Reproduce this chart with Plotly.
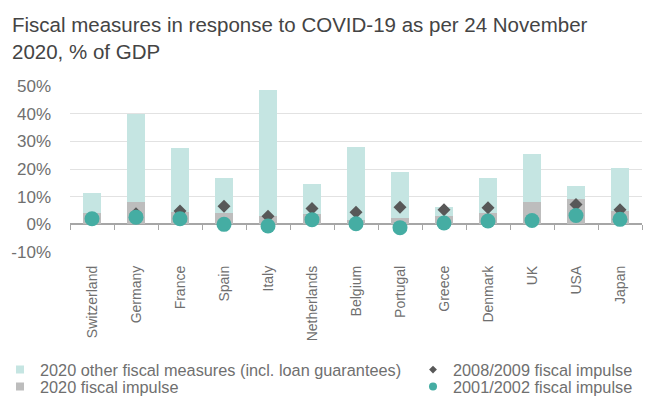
import plotly.graph_objects as go

countries = ["Switzerland", "Germany", "France", "Spain", "Italy", "Netherlands",
             "Belgium", "Portugal", "Greece", "Denmark", "UK", "USA", "Japan"]
impulse_2020 = [4.0, 8.0, 4.5, 4.0, 3.0, 3.7, 1.4, 2.4, 3.0, 4.0, 8.0, 9.3, 5.0]
other_2020 = [7.3, 32.0, 23.2, 12.9, 45.4, 11.0, 26.5, 16.5, 3.2, 12.7, 17.6, 4.7, 15.5]
impulse_0809 = [2.0, 3.8, 4.8, 6.5, 2.9, 5.7, 4.4, 6.2, 5.3, 6.0, 1.4, 7.2, 5.3]
impulse_0102 = [2.0, 2.6, 2.0, 0.0, -0.6, 1.7, 0.2, -1.2, 0.5, 1.2, 1.4, 3.2, 1.8]
y_ticks = [-10, 0, 10, 20, 30, 40, 50]
y_labels = [f"{v}%" for v in y_ticks]

names = {
    "other": "2020 other fiscal measures (incl. loan guarantees)",
    "impulse": "2020 fiscal impulse",
    "0809": "2008/2009 fiscal impulse",
    "0102": "2001/2002 fiscal impulse",
}

FONT = "Liberation Sans"
TXT = "#6f6f6f"
C_OTHER = "#c5e5e2"
C_IMP = "#bdbdbd"
C_DIA = "#585858"
C_CIR = "#45ada3"

W, H = 652, 397

fig = go.Figure()
fig.add_trace(go.Bar(x=countries, y=impulse_2020, name=names["impulse"],
                     marker=dict(color=C_IMP, line=dict(width=0)),
                     legendgroup="impulse", showlegend=False))
fig.add_trace(go.Bar(x=countries, y=other_2020, name=names["other"],
                     marker=dict(color=C_OTHER, line=dict(width=0)),
                     legendgroup="other", showlegend=False))
fig.add_trace(go.Scatter(x=countries, y=impulse_0809, mode="markers", name=names["0809"],
                         marker=dict(symbol="diamond", size=10, color=C_DIA),
                         legendgroup="0809", showlegend=False))
fig.add_trace(go.Scatter(x=countries, y=impulse_0102, mode="markers", name=names["0102"],
                         marker=dict(symbol="circle", size=15, color=C_CIR),
                         legendgroup="0102", showlegend=False))

# compact legend entries (small symbols, one legend box per entry for tight rows)
for key, sym, col, sz, leg in [("other", "square", C_OTHER, 8, "legend"),
                               ("impulse", "square", C_IMP, 8, "legend2"),
                               ("0809", "diamond", C_DIA, 6, "legend3"),
                               ("0102", "circle", C_CIR, 8, "legend4")]:
    fig.add_trace(go.Scatter(x=[None], y=[None], mode="markers", name=names[key],
                             marker=dict(symbol=sym, size=sz, color=col),
                             legendgroup=key, legend=leg, showlegend=True))

# invisible trace carrying the zero-line category axis with boundary ticks
fig.add_trace(go.Scatter(x=countries, y=[0] * len(countries), xaxis="x2",
                         mode="markers", marker=dict(opacity=0),
                         showlegend=False, hoverinfo="skip"))

y_range = [-10, 50]
zero_pos = (0 - y_range[0]) / (y_range[1] - y_range[0])


def leg(x_px, y_px, size):
    return dict(x=x_px / W, xref="container", xanchor="left",
                y=1 - y_px / H, yref="container", yanchor="middle",
                orientation="v", font=dict(size=size, color=TXT),
                bgcolor="rgba(0,0,0,0)", itemwidth=30, tracegroupgap=0,
                itemclick=False, itemdoubleclick=False)


fig.update_layout(
    width=W, height=H,
    margin=dict(l=70, r=10, t=86, b=145, autoexpand=False),
    paper_bgcolor="white", plot_bgcolor="white",
    barmode="stack", bargap=0.61,
    font=dict(family=FONT, color=TXT, size=14),
    title=dict(text="Fiscal measures in response to COVID-19 as per 24 November<br>2020, % of GDP",
               x=12 / W, xref="container", xanchor="left",
               y=1 - 32 / H, yref="container", yanchor="top",
               font=dict(family=FONT, size=20.5, color="#444444")),
    xaxis=dict(type="category", showgrid=False, showline=False, ticks="",
               tickangle=-90, tickfont=dict(size=14, color=TXT),
               ticklabelstandoff=10, range=[-0.5, 12.5], automargin=False),
    xaxis2=dict(type="category", overlaying="x", anchor="free", position=zero_pos,
                matches="x", showticklabels=False, showgrid=False,
                showline=True, linecolor="#a6a6a6", linewidth=1.5,
                ticks="outside", tickson="boundaries", ticklen=5,
                tickcolor="#a6a6a6", tickwidth=1.2, side="bottom",
                layer="below traces", automargin=False),
    yaxis=dict(range=y_range, tickvals=y_ticks, ticktext=y_labels,
               showgrid=True, gridcolor="#e2e2e2", gridwidth=1.3,
               zeroline=False, showline=False, automargin=False,
               tickfont=dict(size=17, color=TXT), ticklabelstandoff=18),
    legend=leg(0, 370, 16.3),
    legend2=leg(0, 387, 16.3),
    legend3=leg(413, 370, 16.3),
    legend4=leg(413, 387, 16.3),
    showlegend=True,
)

fig.write_html("out.html", config={"displayModeBar": False},
               post_script="document.body.style.margin='0';")
